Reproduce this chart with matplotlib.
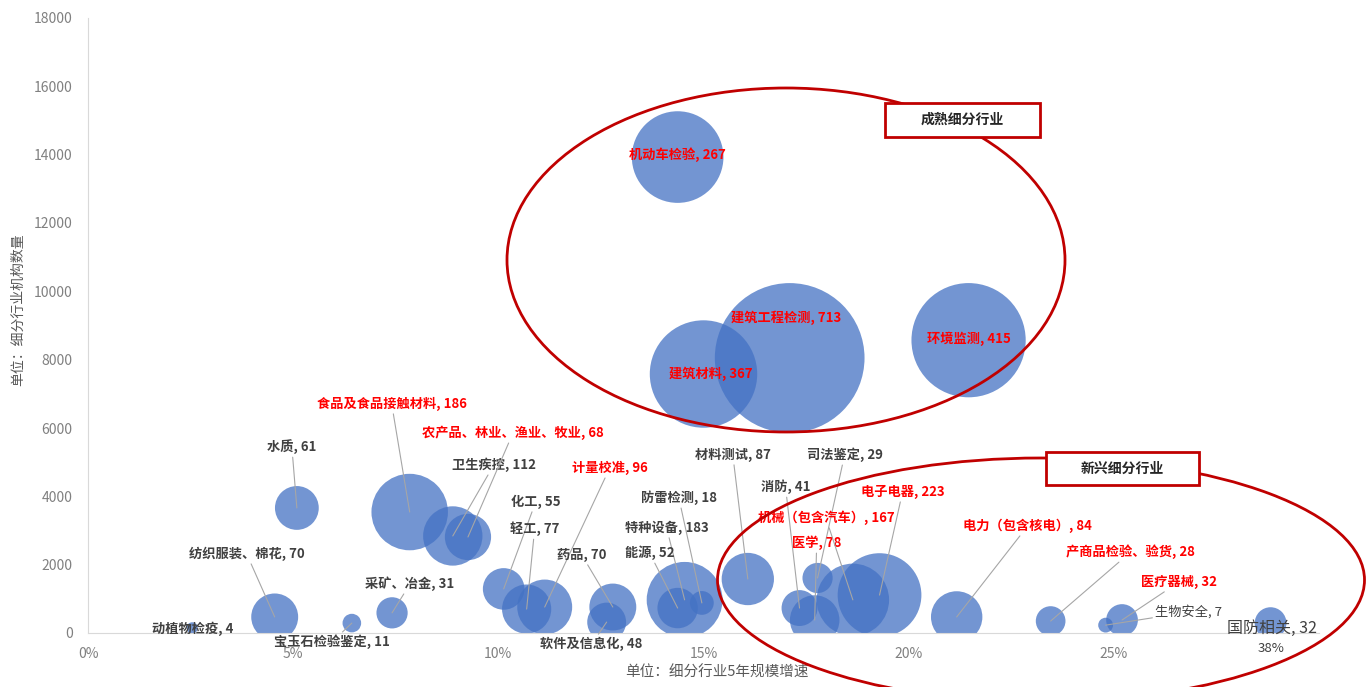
import matplotlib
matplotlib.use('Agg')
import matplotlib.pyplot as plt
from matplotlib.patches import Ellipse, Rectangle

plt.rcParams['font.family'] = ['Noto Sans CJK SC', 'DejaVu Sans']

# bubble data: name, 5-yr growth (%), number of institutions, bubble value
names = ['动植物检疫', '纺织服装、棉花', '宝玉石检验鉴定', '采矿、冶金', '水质',
         '食品及食品接触材料', '卫生疾控', '农产品、林业、渔业、牧业', '化工', '轻工',
         '计量校准', '药品', '软件及信息化', '特种设备', '能源',
         '防雷检测', '材料测试', '消防', '司法鉴定', '医学',
         '机械（包含汽车）', '电子电器', '电力（包含核电）', '产商品检验、验货', '生物安全',
         '医疗器械', '国防相关', '机动车检验', '建筑工程检测', '建筑材料',
         '环境监测']
growth = [2.54, 4.55, 6.43, 7.41, 5.09,
          7.84, 8.89, 9.26, 10.13, 10.69,
          11.13, 12.79, 12.64, 14.54, 14.37,
          14.96, 16.08, 17.34, 17.78, 17.71,
          18.64, 19.29, 21.17, 23.46, 24.8,
          25.2, 28.82, 14.37, 17.1, 15.0,
          21.46]
count = [150, 470, 290, 590, 3660,
         3540, 2840, 2810, 1290, 700,
         760, 760, 320, 970, 730,
         880, 1580, 730, 1610, 380,
         970, 1110, 470, 350, 230,
         380, 290, 13930, 8050, 7580,
         8570]
size = [4, 70, 11, 31, 61,
        186, 112, 68, 55, 77,
        96, 70, 48, 183, 52,
        18, 87, 41, 29, 78,
        167, 223, 84, 28, 7,
        32, 32, 267, 713, 367,
        415]
red = {'食品及食品接触材料', '农产品、林业、渔业、牧业', '计量校准', '医学', '机械（包含汽车）',
       '电子电器', '电力（包含核电）', '产商品检验、验货', '医疗器械', '机动车检验',
       '建筑工程检测', '建筑材料', '环境监测'}

# label offsets from bubble centre, in pixels (x right, y up)
offsets = [(0, -1), (-28, 63), (-20, -19), (18, 29), (-5, 61),
           (-18, 108), (41, 71), (45, 104), (32, 87), (8, 80),
           (65, 139), (-31, 52), (-15, -22), (-18, 72), (-28, 55),
           (-23, 105), (-15, 124), (-14, 121), (27, 123), (2, 77),
           (-27, 82), (23, 103), (71, 91), (80, 69), (83, 13),
           (57, 38), (1, -5), (0, 2), (-4, 40), (7, 0),
           (0, 1)]
no_leader = {'动植物检疫', '国防相关', '机动车检验', '建筑工程检测', '建筑材料', '环境监测'}

fig = plt.figure(figsize=(13.71, 6.87), dpi=100)
ax = fig.add_axes([88 / 1371, 1 - 633 / 687, (1319 - 88) / 1371, (633 - 18) / 687])

ax.scatter(growth, count, s=[v * 16.3 for v in size], color='#4472C4', alpha=0.75,
           linewidths=0, zorder=2)

for n, x, y, v, (dx, dy) in zip(names, growth, count, size, offsets):
    c = '#FF0000' if n in red else '#404040'
    weight = 'bold'
    fs = 9.5
    if n == '生物安全':
        weight = 'normal'
    if n == '国防相关':
        weight, fs = 'normal', 11.5
    arrow = None
    if n not in no_leader:
        arrow = dict(arrowstyle='-', color='#a6a6a6', lw=0.8, shrinkA=0, shrinkB=0)
    ax.annotate(f'{n}, {v}', xy=(x, y), xytext=(dx * 0.72, dy * 0.72),
                textcoords='offset points', ha='center', va='center',
                fontsize=fs, color=c, fontweight=weight, arrowprops=arrow,
                zorder=3, annotation_clip=False)

# axis-break note under the last bubble
ax.annotate('38%', xy=(28.82, 0), xytext=(0, -15 * 0.72), textcoords='offset points',
            ha='center', va='center', fontsize=9.5, color='#404040')

ax.set_xlim(0, 30)
ax.set_ylim(0, 18000)
ax.set_xticks([0, 5, 10, 15, 20, 25])
ax.set_xticklabels(['0%', '5%', '10%', '15%', '20%', '25%'])
ax.set_yticks(range(0, 18001, 2000))
ax.tick_params(length=0, colors='#808080', labelsize=10)
ax.tick_params(axis='y', pad=11)
ax.tick_params(axis='x', pad=10)
for s in ['top', 'right']:
    ax.spines[s].set_visible(False)
for s in ['left', 'bottom']:
    ax.spines[s].set_color('#d9d9d9')

fig.text(18 / 1371, 1 - 310 / 687, '单位：细分行业机构数量', rotation=90,
         ha='center', va='center', fontsize=10, color='#595959')
fig.text(717 / 1371, 1 - 673 / 687, '单位：细分行业5年规模增速',
         ha='center', va='center', fontsize=10.5, color='#595959')

# group outlines
fig.add_artist(Ellipse((786 / 1371, 1 - 260 / 687), 558 / 1371, 344 / 687,
                       transform=fig.transFigure, fill=False, ec='#C00000', lw=2, zorder=5))
fig.add_artist(Ellipse((1041 / 1371, 1 - 580 / 687), 647 / 1371, 244 / 687,
                       transform=fig.transFigure, fill=False, ec='#C00000', lw=2, zorder=5))

boxes = [('成熟细分行业', 885, 103, 1040, 137), ('新兴细分行业', 1046, 452, 1199, 485)]
for label, x0, y0, x1, y1 in boxes:
    fig.add_artist(Rectangle((x0 / 1371, 1 - y1 / 687), (x1 - x0) / 1371, (y1 - y0) / 687,
                             transform=fig.transFigure, fc='white', ec='#C00000', lw=2, zorder=6))
    fig.text((x0 + x1) / 2 / 1371, 1 - (y0 + y1) / 2 / 687, label, ha='center', va='center',
             fontsize=10, fontweight='bold', color='#262626', zorder=7)

fig.savefig('out.png', dpi=100)
